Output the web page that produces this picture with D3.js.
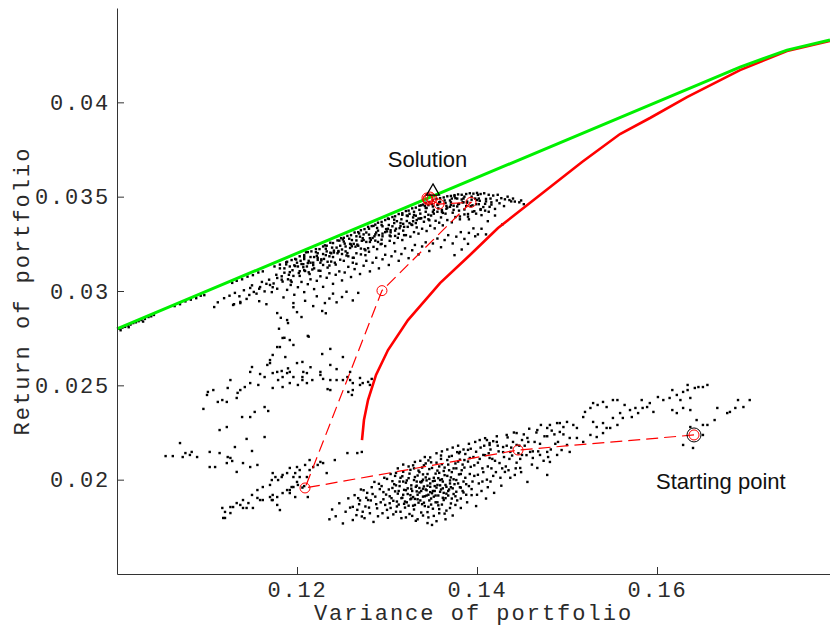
<!DOCTYPE html>
<html>
<head>
<meta charset="utf-8">
<script src="https://cdn.jsdelivr.net/npm/d3@7"></script>
<style>
  body { margin: 0; background: #fff; }
  svg { display: block; background: #fff; }
  .axis text { font-family: "Liberation Mono", "Courier New", monospace; font-size: 22px; letter-spacing: 1.8px; fill: #2a2a2a; }
  .axis path, .axis line { stroke: #333; }
  .title { font-family: "Liberation Mono", "Courier New", monospace; font-size: 22px; letter-spacing: 2px; fill: #2a2a2a; }
  .note { font-family: "Liberation Sans", Arial, Helvetica, sans-serif; font-size: 22px; fill: #111; }
</style>
</head>
<body>
<svg width="830" height="628"></svg>
<script>
// tick values
var varianceTicks = [0.12, 0.14, 0.16]
var returnTicks = [0.02, 0.025, 0.03, 0.035, 0.04]

// sampled portfolios lying right on the frontier (left end)
var frontierDots = [
  [0.1002,0.02800],[0.1004,0.02792],[0.1006,0.02806],[0.1009,0.02810],[0.1012,0.02818],[0.1013,0.02808],
  [0.1015,0.02822],[0.1018,0.02830],[0.1021,0.02834],[0.1024,0.02840],[0.1027,0.02846],[0.1029,0.02838],
  [0.1031,0.02852],[0.1035,0.02862],[0.1038,0.02866],[0.1041,0.02873],[0.1064,0.02920],[0.1070,0.02930],
  [0.1076,0.02945],[0.1082,0.02954],[0.1088,0.02962],[0.1093,0.02975],[0.1097,0.02978],[0.1128,0.03043],
  [0.1133,0.03054],[0.1139,0.03062],[0.1145,0.03076],[0.1151,0.03084],[0.1157,0.03098],[0.1162,0.03104],
  [0.1175,0.03130],[0.1181,0.03140],[0.1188,0.03152],[0.1194,0.03164],[0.1198,0.03170]
]

// upper band of samples
var upperCloud = [
  [0.1203,0.03184],[0.1208,0.03190],[0.1212,0.03206],[0.1216,0.03210],[0.1221,0.03222],[0.1225,0.03222],
  [0.1229,0.03236],[0.1233,0.03240],[0.1237,0.03256],[0.1240,0.03254],[0.1245,0.03268],[0.1249,0.03280],
  [0.1252,0.03282],[0.1256,0.03292],[0.1260,0.03296],[0.1264,0.03310],[0.1268,0.03312],[0.1271,0.03322],
  [0.1275,0.03328],[0.1279,0.03340],[0.1283,0.03344],[0.1287,0.03352],[0.1290,0.03362],[0.1294,0.03366],
  [0.1298,0.03376],[0.1302,0.03382],[0.1306,0.03392],[0.1309,0.03396],[0.1313,0.03408],[0.1317,0.03412],
  [0.1321,0.03424],[0.1324,0.03426],[0.1328,0.03438],[0.1332,0.03442],[0.1336,0.03452],[0.1340,0.03458],
  [0.1343,0.03468],[0.1347,0.03472],[0.1351,0.03480],[0.1355,0.03488],[0.1359,0.03492],[0.1363,0.03496],
  [0.1367,0.03502],[0.1371,0.03504],[0.1375,0.03508],[0.1379,0.03512],[0.1383,0.03510],[0.1388,0.03514],
  [0.1392,0.03518],[0.1396,0.03516],[0.1400,0.03520],[0.1404,0.03514],[0.1408,0.03518],[0.1413,0.03510],
  [0.1418,0.03506],
  [0.1158,0.03012],[0.1166,0.03038],[0.1174,0.03040],[0.1183,0.03060],[0.1190,0.03062],[0.1196,0.03080],
  [0.1203,0.03080],[0.1209,0.03106],[0.1214,0.03090],[0.1219,0.03120],[0.1224,0.03108],[0.1229,0.03138],
  [0.1234,0.03124],[0.1238,0.03156],[0.1243,0.03140],[0.1248,0.03166],[0.1252,0.03160],[0.1257,0.03184],
  [0.1262,0.03176],[0.1266,0.03200],[0.1271,0.03194],[0.1276,0.03216],[0.1280,0.03208],[0.1285,0.03234],
  [0.1289,0.03222],[0.1294,0.03250],[0.1298,0.03238],[0.1303,0.03266],[0.1308,0.03254],[0.1312,0.03282],
  [0.1317,0.03270],[0.1321,0.03296],[0.1326,0.03288],[0.1330,0.03312],[0.1335,0.03304],[0.1339,0.03330],
  [0.1344,0.03318],[0.1348,0.03346],[0.1353,0.03332],[0.1358,0.03362],[0.1362,0.03348],[0.1367,0.03376],
  [0.1372,0.03364],[0.1376,0.03392],[0.1381,0.03380],[0.1386,0.03406],[0.1390,0.03394],[0.1395,0.03420],
  [0.1399,0.03410],[0.1404,0.03434],[0.1409,0.03426],[0.1414,0.03446],
  [0.1201,0.03130],[0.1207,0.03142],[0.1213,0.03160],[0.1218,0.03150],[0.1223,0.03176],[0.1227,0.03168],
  [0.1232,0.03190],[0.1236,0.03184],[0.1241,0.03204],[0.1246,0.03212],[0.1250,0.03220],[0.1254,0.03236],
  [0.1259,0.03228],[0.1263,0.03250],[0.1267,0.03246],[0.1272,0.03266],[0.1277,0.03260],[0.1281,0.03280],
  [0.1286,0.03290],[0.1291,0.03296],[0.1295,0.03304],[0.1300,0.03316],[0.1304,0.03322],[0.1310,0.03330],
  [0.1315,0.03344],[0.1319,0.03340],[0.1325,0.03360],[0.1329,0.03370],[0.1333,0.03376],[0.1338,0.03386],
  [0.1342,0.03392],[0.1346,0.03404],[0.1352,0.03410],[0.1356,0.03420],[0.1361,0.03430],[0.1366,0.03436],
  [0.1370,0.03446],[0.1374,0.03452],[0.1380,0.03462],[0.1384,0.03470],[0.1389,0.03474],[0.1394,0.03484],
  [0.1398,0.03490],[0.1403,0.03478],[0.1410,0.03488],[0.1416,0.03470],[0.1422,0.03480],[0.1427,0.03492],
  [0.1431,0.03486],[0.1436,0.03482],[0.1442,0.03474],[0.1447,0.03470],
  [0.1181,0.03120],[0.1184,0.03050],[0.1186,0.03097],[0.1189,0.03155],[0.1191,0.03086],[0.1194,0.03048],
  [0.1197,0.03136],[0.1199,0.03167],[0.1202,0.03095],[0.1205,0.03143],[0.1207,0.03126],[0.1210,0.03205],
  [0.1213,0.03099],[0.1215,0.03180],[0.1218,0.03137],[0.1221,0.03206],[0.1223,0.03165],[0.1226,0.03107],
  [0.1229,0.03196],[0.1231,0.03242],[0.1234,0.03155],[0.1237,0.03203],[0.1239,0.03230],[0.1242,0.03150],
  [0.1245,0.03200],[0.1247,0.03267],[0.1250,0.03196],[0.1253,0.03251],[0.1255,0.03188],[0.1258,0.03277],
  [0.1261,0.03237],[0.1263,0.03176],[0.1266,0.03268],[0.1269,0.03305],[0.1271,0.03225],[0.1274,0.03270],
  [0.1277,0.03310],[0.1279,0.03227],[0.1282,0.03271],[0.1285,0.03345],[0.1287,0.03267],[0.1290,0.03320],
  [0.1293,0.03248],[0.1295,0.03343],[0.1298,0.03312],[0.1301,0.03384],[0.1303,0.03294],[0.1306,0.03343],
  [0.1309,0.03292],[0.1311,0.03370],[0.1314,0.03333],[0.1317,0.03404],[0.1319,0.03296],[0.1322,0.03371],
  [0.1325,0.03409],[0.1327,0.03353],[0.1330,0.03403],[0.1333,0.03337],[0.1335,0.03384],[0.1338,0.03454],
  [0.1341,0.03367],[0.1343,0.03420],[0.1346,0.03455],[0.1349,0.03400],[0.1351,0.03448],[0.1354,0.03372],
  [0.1357,0.03438],[0.1359,0.03473],[0.1362,0.03414],[0.1365,0.03467],[0.1367,0.03442],[0.1370,0.03480],
  [0.1373,0.03415],[0.1375,0.03502],[0.1378,0.03448],[0.1381,0.03395],[0.1383,0.03485],[0.1386,0.03432],
  [0.1389,0.03468],[0.1391,0.03380],[0.1394,0.03500],[0.1397,0.03423],[0.1399,0.03460],[0.1402,0.03490],
  [0.1405,0.03402],[0.1407,0.03445],[0.1410,0.03475],[0.1413,0.03420],[0.1416,0.03458],[0.1420,0.03435],
  [0.1425,0.03465],[0.1430,0.03450],[0.1438,0.03475],
  [0.1183,0.03078],[0.1188,0.03141],[0.1193,0.03056],[0.1198,0.03132],[0.1203,0.03105],[0.1208,0.03169],
  [0.1212,0.03148],[0.1217,0.03114],[0.1222,0.03186],[0.1227,0.03162],[0.1232,0.03224],[0.1236,0.03135],
  [0.1241,0.03214],[0.1246,0.03208],[0.1251,0.03273],[0.1256,0.03201],[0.1260,0.03247],[0.1265,0.03235],
  [0.1270,0.03288],[0.1275,0.03222],[0.1280,0.03299],[0.1284,0.03281],[0.1289,0.03334],[0.1294,0.03272],
  [0.1299,0.03328],[0.1304,0.03311],[0.1308,0.03378],[0.1313,0.03303],[0.1318,0.03356],[0.1323,0.03397],
  [0.1328,0.03350],[0.1332,0.03399],[0.1337,0.03384],[0.1342,0.03451],[0.1347,0.03375],[0.1352,0.03430],
  [0.1356,0.03456],[0.1361,0.03420],[0.1366,0.03451],[0.1371,0.03457],[0.1376,0.03492],[0.1380,0.03426],
  [0.1385,0.03470],[0.1390,0.03408],[0.1395,0.03454],[0.1400,0.03482],[0.1404,0.03430],[0.1409,0.03462],
  [0.1186,0.03120],[0.1195,0.03110],[0.1204,0.03160],[0.1211,0.03130],[0.1219,0.03180],[0.1226,0.03150],
  [0.1233,0.03210],[0.1240,0.03180],[0.1248,0.03240],[0.1254,0.03210],[0.1261,0.03270],[0.1268,0.03240],
  [0.1274,0.03300],[0.1281,0.03260],[0.1288,0.03310],[0.1295,0.03290],[0.1302,0.03350],[0.1309,0.03320],
  [0.1316,0.03380],[0.1323,0.03340],[0.1330,0.03420],[0.1337,0.03410],[0.1344,0.03440],[0.1351,0.03420],
  [0.1358,0.03470],[0.1365,0.03410],[0.1372,0.03490],[0.1379,0.03460],[0.1386,0.03500],[0.1393,0.03450],
  [0.1401,0.03510],[0.1244,0.03230],[0.1252,0.03262],[0.1259,0.03250],[0.1266,0.03290],[0.1273,0.03280],
  [0.1280,0.03330],[0.1287,0.03300],[0.1294,0.03350],[0.1301,0.03330],[0.1308,0.03360],[0.1315,0.03360],
  [0.1322,0.03400],[0.1329,0.03390],[0.1336,0.03430],[0.1343,0.03440],[0.1350,0.03460],[0.1357,0.03460],
  [0.1364,0.03480],[0.1371,0.03470],[0.1378,0.03490],[0.1385,0.03490],[0.1230,0.03170],[0.1238,0.03200],
  [0.1223,0.03200],[0.1215,0.03150],[0.1208,0.03180],[0.1200,0.03150],[0.1192,0.03130],[0.1262,0.03150],
  [0.1276,0.03190],[0.1290,0.03260],[0.1304,0.03290],[0.1318,0.03320],[0.1332,0.03360],[0.1346,0.03380],
  [0.1360,0.03390],[0.1374,0.03430],[0.1388,0.03450],[0.1402,0.03460],[0.1415,0.03490],[0.1423,0.03510],
  [0.1434,0.03500],[0.1440,0.03490],[0.1449,0.03480],[0.1452,0.03460],
  [0.1172,0.02994],[0.1178,0.03012],[0.1185,0.02966],[0.1189,0.03006],[0.1193,0.03032],[0.1197,0.02980],
  [0.1201,0.03020],[0.1205,0.03048],[0.1208,0.02994],[0.1212,0.03036],[0.1215,0.03062],[0.1219,0.03010],
  [0.1222,0.03054],[0.1226,0.03078],[0.1229,0.03022],[0.1233,0.03070],[0.1236,0.03094],[0.1240,0.03038],
  [0.1243,0.03086],[0.1247,0.03104],[0.1250,0.03056],[0.1253,0.03098],[0.1257,0.03128],[0.1260,0.03074],
  [0.1264,0.03116],[0.1266,0.03144],[0.1270,0.03090],[0.1274,0.03134],[0.1277,0.03160],[0.1281,0.03104],
  [0.1284,0.03150],[0.1288,0.03176],[0.1291,0.03120],[0.1295,0.03168],[0.1298,0.03192],[0.1302,0.03138],
  [0.1305,0.03184],[0.1309,0.03210],[0.1313,0.03160],[0.1316,0.03196],[0.1320,0.03226],[0.1324,0.03174],
  [0.1328,0.03216],[0.1331,0.03244],[0.1335,0.03194],[0.1339,0.03236],[0.1343,0.03258],[0.1347,0.03212],
  [0.1351,0.03252],[0.1356,0.03278],[0.1360,0.03232],[0.1364,0.03270],[0.1368,0.03296],[0.1373,0.03252],
  [0.1377,0.03288],[0.1382,0.03312],[0.1386,0.03276],[0.1391,0.03308],[0.1396,0.03332],[0.1401,0.03300],
  [0.1405,0.03330],[0.1412,0.03370],[0.1420,0.03400],[0.1428,0.03352],[0.1398,0.03290],[0.1390,0.03250],
  [0.1383,0.03220],[0.1375,0.03190],[0.1410,0.03300],
  [0.1148,0.03016],[0.1170,0.03032],[0.1178,0.03069],[0.1192,0.03100],[0.1208,0.03110],[0.1130,0.02930],
  [0.1137,0.02942],[0.1147,0.02979],[0.1152,0.02995],[0.1159,0.03021],
  [0.1125,0.02975],[0.1131,0.02990],[0.1136,0.02972],[0.1141,0.03004],[0.1144,0.02958],[0.1150,0.03030],
  [0.1155,0.02986],[0.1161,0.03048],[0.1164,0.02998],[0.1169,0.03060],[0.1173,0.03020],[0.1177,0.03086],
  [0.1112,0.02940],[0.1119,0.02962],[0.1108,0.02915],
  [0.1180,0.02800],[0.1182,0.02858],[0.1186,0.02752],[0.1190,0.02830],[0.1196,0.02914],[0.1200,0.02888],
  [0.1205,0.02862],[0.1209,0.02948],[0.1213,0.02758],[0.1218,0.02920],[0.1222,0.02972],[0.1228,0.02894],
  [0.1231,0.02936],[0.1232,0.02882],[0.1236,0.02960],[0.1240,0.02986],[0.1244,0.02940],[0.1250,0.02968],
  [0.1255,0.02996],[0.1262,0.02950],[0.1268,0.02990],[0.1166,0.02930],[0.1158,0.02946],
  [0.1178,0.02883],[0.1189,0.02846],[0.1196,0.02936],[0.1192,0.02740],[0.1181,0.02703],[0.1129,0.02926],
  [0.1137,0.02936]
]

// scattered samples in the middle
var middleCloud = [
  [0.1212,0.02762],[0.1184,0.02751],[0.1178,0.02703],[0.1196,0.02714],[0.1173,0.02661],[0.1187,0.02650],
  [0.1228,0.02666],[0.1237,0.02693],[0.1251,0.02650],[0.1148,0.02571],[0.1150,0.02597],[0.1167,0.02608],
  [0.1170,0.02634],[0.1164,0.02544],[0.1173,0.02565],[0.1192,0.02571],[0.1178,0.02571],[0.1183,0.02576],
  [0.1189,0.02565],[0.1184,0.02544],[0.1179,0.02528],[0.1196,0.02544],[0.1200,0.02618],[0.1206,0.02624],
  [0.1207,0.02571],[0.1211,0.02565],[0.1206,0.02528],[0.1211,0.02512],[0.1201,0.02502],[0.1192,0.02512],
  [0.1184,0.02491],[0.1173,0.02486],[0.1217,0.02528],[0.1226,0.02555],[0.1237,0.02528],[0.1237,0.02608],
  [0.1244,0.02528],[0.1251,0.02528],[0.1259,0.02528],[0.1259,0.02571],[0.1262,0.02512],[0.1270,0.02502],
  [0.1273,0.02512],[0.1281,0.02502],[0.1257,0.02465],[0.1261,0.02449],[0.1234,0.02480],[0.1157,0.02502],
  [0.1148,0.02512],[0.1142,0.02491],[0.1137,0.02475],[0.1134,0.02460],[0.1133,0.02433],[0.1126,0.02528],
  [0.1123,0.02486],[0.1117,0.02422],[0.1122,0.02412],[0.1112,0.02412],[0.1101,0.02465],[0.1107,0.02475],
  [0.1100,0.02449],[0.1096,0.02375],[0.1139,0.02332],[0.1148,0.02332],[0.1153,0.02359],[0.1164,0.02385],
  [0.1168,0.02364],[0.1114,0.02263],[0.1122,0.02279],[0.1144,0.02216],[0.1164,0.02226],[0.1131,0.02173],
  [0.1150,0.02152],[0.1070,0.02194],[0.1054,0.02125],[0.1062,0.02125],[0.1073,0.02120],[0.1081,0.02131],
  [0.1089,0.02120],[0.1076,0.02141],[0.1083,0.02147],[0.1103,0.02147],[0.1114,0.02141],[0.1126,0.02115],
  [0.1128,0.02099],[0.1103,0.02067],[0.1109,0.02067],[0.1140,0.02088],[0.1148,0.02067],[0.1156,0.02078],
  [0.1123,0.02120],[0.1133,0.02041],[0.1122,0.02088],[0.1270,0.02539],[0.1279,0.02518],[0.1283,0.02534],
  [0.1256,0.02544],[0.1262,0.02475],[0.1229,0.02534],[0.1226,0.02571],[0.1237,0.02475],[0.1206,0.02544],
  [0.1170,0.02618],[0.1159,0.02560],[0.1190,0.02590],[0.1215,0.02596],[0.1244,0.02586]
]

// lower-left arm
var lowerArm = [
  [0.1117,0.01850],[0.1120,0.01797],[0.1126,0.01823],[0.1129,0.01855],[0.1137,0.01866],[0.1140,0.01850],
  [0.1146,0.01876],[0.1151,0.01850],[0.1156,0.01903],[0.1162,0.01892],[0.1170,0.01908],[0.1173,0.01892],
  [0.1178,0.01908],[0.1181,0.01839],[0.1184,0.01929],[0.1192,0.01945],[0.1196,0.01961],[0.1179,0.01998],
  [0.1184,0.02025],[0.1198,0.02035],[0.1118,0.01797],[0.1144,0.01850],[0.1159,0.01892],[0.1172,0.01892],
  [0.1173,0.01919],[0.1178,0.01866],[0.1189,0.01945],[0.1194,0.01961],[0.1200,0.01988],[0.1203,0.02014],
  [0.1196,0.02014],[0.1189,0.02035],[0.1183,0.02014],[0.1176,0.02014],[0.1172,0.01998],[0.1192,0.01929],
  [0.1198,0.01908],[0.1201,0.01972],[0.1212,0.01908],[0.1211,0.02014],[0.1214,0.02051],[0.1218,0.02067],
  [0.1223,0.02078],[0.1226,0.02094],[0.1229,0.02088],[0.1233,0.02035],[0.1242,0.02104],[0.1203,0.02051],
  [0.1209,0.02078],[0.1214,0.02104],[0.1200,0.02067],[0.1192,0.02062],[0.1173,0.02035],[0.1170,0.01972],
  [0.1162,0.01961],[0.1156,0.01945],[0.1150,0.01919],[0.1140,0.01892],[0.1133,0.01876],[0.1126,0.01855],
  [0.1120,0.01829],[0.1256,0.02141],[0.1267,0.02141],[0.1272,0.02147],[0.1206,0.01958],[0.1208,0.01966]
]

// dense lower cloud
var lowerCloud = [
  [0.1236,0.01790],[0.1239,0.01842],[0.1243,0.01806],[0.1247,0.01875],[0.1251,0.01768],[0.1254,0.01830],
  [0.1257,0.01901],[0.1259,0.01852],[0.1262,0.01786],[0.1264,0.01918],[0.1267,0.01840],[0.1269,0.01870],
  [0.1272,0.01805],[0.1274,0.01944],[0.1276,0.01858],[0.1279,0.01892],[0.1281,0.01822],[0.1283,0.01960],
  [0.1285,0.01776],[0.1287,0.01910],[0.1289,0.01848],[0.1291,0.01978],[0.1293,0.01880],[0.1295,0.01822],
  [0.1296,0.01934],[0.1298,0.01866],[0.1300,0.02004],[0.1301,0.01798],[0.1303,0.01912],[0.1304,0.01850],
  [0.1306,0.01956],[0.1307,0.01888],[0.1309,0.02020],[0.1310,0.01830],[0.1312,0.01926],[0.1313,0.01868],
  [0.1314,0.01990],[0.1316,0.01796],[0.1317,0.01904],[0.1318,0.02042],[0.1320,0.01852],[0.1321,0.01944],
  [0.1322,0.01880],[0.1324,0.02008],[0.1325,0.01818],[0.1326,0.01918],[0.1327,0.01970],[0.1329,0.01862],
  [0.1330,0.02060],[0.1331,0.01898],[0.1332,0.01782],[0.1333,0.01938],[0.1334,0.02022],[0.1335,0.01878],
  [0.1336,0.01956],[0.1338,0.01826],[0.1339,0.01992],[0.1340,0.01910],[0.1341,0.02076],[0.1342,0.01860],
  [0.1343,0.01948],[0.1345,0.02030],[0.1346,0.01800],[0.1347,0.01890],[0.1348,0.01980],[0.1349,0.02092],
  [0.1350,0.01928],[0.1351,0.01846],[0.1352,0.02010],[0.1353,0.01966],[0.1354,0.01880],[0.1356,0.02048],
  [0.1357,0.01916],[0.1358,0.01822],[0.1359,0.01998],[0.1360,0.02110],[0.1361,0.01868],[0.1362,0.01954],
  [0.1364,0.02064],[0.1365,0.01902],[0.1366,0.01836],[0.1367,0.02020],[0.1368,0.01940],[0.1369,0.02122],
  [0.1370,0.01980],[0.1371,0.01874],[0.1372,0.02040],[0.1373,0.01810],[0.1374,0.01924],[0.1376,0.02086],
  [0.1377,0.01998],[0.1378,0.01890],[0.1380,0.02140],[0.1381,0.01960],[0.1382,0.01850],[0.1383,0.02050],
  [0.1385,0.01932],[0.1386,0.02104],[0.1387,0.02010],[0.1389,0.01880],[0.1390,0.02158],[0.1391,0.01966],
  [0.1393,0.02068],[0.1394,0.01918],[0.1396,0.02120],[0.1397,0.02020],[0.1399,0.01860],[0.1401,0.02090],
  [0.1402,0.01980],[0.1404,0.02170],[0.1405,0.01940],[0.1407,0.02040],[0.1409,0.02130],[0.1410,0.01900],
  [0.1412,0.02070],[0.1414,0.02194],[0.1415,0.01990],[0.1417,0.02110],[0.1419,0.01930],[0.1421,0.02040],
  [0.1423,0.02180],[0.1425,0.02088],[0.1427,0.01968],[0.1429,0.02146],[0.1432,0.02070],[0.1434,0.02224],
  [0.1437,0.02010],[0.1439,0.02128],[0.1441,0.02250],[0.1444,0.02090],[0.1447,0.02180],[0.1449,0.02040],
  [0.1452,0.02240],[0.1455,0.02130],[0.1458,0.02270],[0.1461,0.02080],[0.1464,0.02200],[0.1468,0.02150],
  [0.1471,0.02290],[0.1475,0.02230],[0.1479,0.02120],[0.1483,0.02260],[0.1487,0.02190],[0.1492,0.02300],
  [0.1302,0.01948],[0.1305,0.01902],[0.1308,0.01976],[0.1311,0.01884],[0.1313,0.01940],[0.1315,0.02010],
  [0.1318,0.01920],[0.1319,0.01872],[0.1321,0.01984],[0.1323,0.01954],[0.1325,0.02032],[0.1326,0.01896],
  [0.1328,0.01940],[0.1330,0.01998],[0.1331,0.01866],[0.1333,0.01968],[0.1334,0.01920],[0.1336,0.02040],
  [0.1337,0.01890],[0.1338,0.01986],[0.1340,0.01952],[0.1341,0.01878],[0.1343,0.02012],[0.1344,0.01916],
  [0.1345,0.01968],[0.1347,0.02056],[0.1348,0.01934],[0.1349,0.01868],[0.1351,0.01992],[0.1352,0.01910],
  [0.1354,0.02032],[0.1355,0.01958],[0.1356,0.01880],[0.1358,0.02070],[0.1359,0.01936],[0.1361,0.02002],
  [0.1362,0.01904],[0.1363,0.02046],[0.1365,0.01972],[0.1366,0.01926],[0.1368,0.02080],[0.1369,0.01948],
  [0.1371,0.02012],[0.1372,0.01900],[0.1374,0.02060],[0.1375,0.01976],[0.1377,0.01936],[0.1379,0.02096],
  [0.1380,0.02028],[0.1382,0.01958],[0.1384,0.02080],[0.1385,0.01990],[0.1344,0.01996],[0.1339,0.02064],
  [0.1357,0.02008],[0.1329,0.02076],[0.1318,0.01990],[0.1310,0.02036],[0.1346,0.02102],[0.1360,0.02128],
  [0.1299,0.01921],[0.1303,0.01875],[0.1306,0.01992],[0.1309,0.01938],[0.1311,0.01858],[0.1314,0.01966],
  [0.1316,0.01902],[0.1317,0.02018],[0.1319,0.01946],[0.1320,0.01884],[0.1322,0.01996],[0.1323,0.01924],
  [0.1324,0.01862],[0.1326,0.02052],[0.1327,0.01952],[0.1329,0.01908],[0.1330,0.01842],[0.1331,0.02014],
  [0.1332,0.01962],[0.1334,0.01896],[0.1335,0.02048],[0.1336,0.01932],[0.1337,0.01988],[0.1339,0.01870],
  [0.1340,0.02028],[0.1341,0.01964],[0.1342,0.01912],[0.1343,0.02086],[0.1344,0.01944],[0.1346,0.01856],
  [0.1347,0.02004],[0.1348,0.01962],[0.1349,0.01900],[0.1350,0.02062],[0.1351,0.01940],[0.1353,0.01994],
  [0.1354,0.01916],[0.1355,0.02090],[0.1356,0.01972],[0.1357,0.01864],[0.1358,0.02036],[0.1360,0.01948],
  [0.1361,0.02082],[0.1362,0.01990],[0.1363,0.01892],[0.1364,0.02024],[0.1366,0.01962],[0.1367,0.02104],
  [0.1368,0.01916],[0.1369,0.02050],[0.1370,0.01996],[0.1372,0.02126],[0.1373,0.01954],[0.1374,0.02002],
  [0.1376,0.01912],[0.1377,0.02060],[0.1378,0.02146],[0.1379,0.01980],[0.1381,0.02106],[0.1382,0.02030],
  [0.1384,0.01940],[0.1386,0.02064],[0.1387,0.02136],[0.1388,0.01976],[0.1390,0.02096],[0.1392,0.02030],
  [0.1393,0.02164],[0.1395,0.01990],[0.1397,0.02076],[0.1399,0.02148],[0.1401,0.02026],[0.1403,0.02110],
  [0.1406,0.02060],[0.1408,0.02180],[0.1411,0.02000],[0.1413,0.02140],[0.1416,0.02060],[0.1418,0.02204],
  [0.1420,0.02100],[0.1424,0.02150],[0.1428,0.02060],[0.1433,0.02180],[0.1436,0.02110],[0.1440,0.02200],
  [0.1446,0.02140],[0.1450,0.02210],[0.1296,0.01896],[0.1292,0.01950],[0.1288,0.01870],[0.1284,0.01924],
  [0.1280,0.01852],[0.1277,0.01904],[0.1273,0.01830],[0.1270,0.01890],[0.1266,0.01812],[0.1262,0.01856],
  [0.1268,0.01902],[0.1271,0.01948],[0.1275,0.01796],[0.1278,0.01930],[0.1282,0.01890],[0.1286,0.01988],
  [0.1290,0.01806],[0.1294,0.01966],[0.1297,0.02010],[0.1300,0.01840],[0.1304,0.02030],[0.1307,0.01816],
  [0.1310,0.01970],[0.1312,0.02060],[0.1315,0.01830],[0.1318,0.02080],[0.1321,0.01800],[0.1324,0.02070],
  [0.1328,0.01808],[0.1331,0.02094],[0.1334,0.01790],[0.1337,0.02100],[0.1340,0.01810],[0.1342,0.02120],
  [0.1345,0.01828],[0.1348,0.02118],[0.1352,0.01808],[0.1355,0.02140],[0.1358,0.01844],[0.1361,0.02150],
  [0.1364,0.01820],[0.1367,0.02160],[0.1370,0.01850],[0.1373,0.02170],[0.1376,0.01866],[0.1379,0.02180],
  [0.1382,0.01900],[0.1385,0.02160],[0.1388,0.01920],[0.1391,0.02190],[0.1394,0.01950],[0.1398,0.02200],
  [0.1400,0.01920],[0.1403,0.02210],[0.1406,0.01990],[0.1409,0.02220],[0.1412,0.01960],[0.1415,0.02160],
  [0.1418,0.02020],[0.1422,0.02230],[0.1426,0.02010],[0.1430,0.02120],[0.1435,0.02050],[0.1438,0.02170],
  [0.1443,0.02060],[0.1448,0.02110],[0.1453,0.02180],[0.1457,0.02200],[0.1462,0.02150],[0.1466,0.02250],
  [0.1470,0.02190],[0.1474,0.02100],[0.1478,0.02230],[0.1482,0.02160],[0.1486,0.02240],[0.1490,0.02200],
  [0.1496,0.02240],[0.1345,0.01770],[0.1355,0.01780],[0.1365,0.01790],[0.1350,0.01760],[0.1340,0.02000],
  [0.1333,0.01990],[0.1327,0.01900],[0.1363,0.01930],[0.1371,0.01960],[0.1353,0.01940],[0.1338,0.01940],
  [0.1346,0.01920],[0.1359,0.01970]
]

// samples stretching towards the starting point
var rightCloud = [
  [0.1433,0.02237],[0.1444,0.02247],[0.1456,0.02221],[0.1467,0.02263],[0.1478,0.02274],[0.1481,0.02290],
  [0.1489,0.02300],[0.1496,0.02279],[0.1500,0.02306],[0.1507,0.02290],[0.1511,0.02274],[0.1492,0.02253],
  [0.1503,0.02221],[0.1518,0.02332],[0.1529,0.02306],[0.1533,0.02279],[0.1540,0.02300],[0.1544,0.02274],
  [0.1551,0.02327],[0.1556,0.02290],[0.1559,0.02353],[0.1562,0.02327],[0.1570,0.02369],[0.1572,0.02332],
  [0.1576,0.02380],[0.1579,0.02353],[0.1583,0.02422],[0.1584,0.02380],[0.1589,0.02385],[0.1592,0.02406],
  [0.1596,0.02359],[0.1601,0.02438],[0.1607,0.02422],[0.1614,0.02433],[0.1617,0.02475],[0.1622,0.02449],
  [0.1626,0.02422],[0.1629,0.02465],[0.1634,0.02475],[0.1637,0.02433],[0.1642,0.02486],[0.1646,0.02491],
  [0.1651,0.02491],[0.1617,0.02369],[0.1622,0.02353],[0.1629,0.02380],[0.1637,0.02369],[0.1644,0.02316],
  [0.1651,0.02290],[0.1656,0.02290],[0.1637,0.02279],[0.1651,0.02237],[0.1629,0.02184],[0.1640,0.02168],
  [0.1664,0.02316],[0.1667,0.02380],[0.1678,0.02353],[0.1681,0.02359],[0.1687,0.02380],[0.1690,0.02422],
  [0.1696,0.02385],[0.1703,0.02422],[0.1520,0.02359],[0.1526,0.02380],[0.1529,0.02406],[0.1534,0.02396],
  [0.1540,0.02412],[0.1544,0.02385],[0.1551,0.02422],[0.1556,0.02422],[0.1564,0.02396],[0.1411,0.02210],
  [0.1414,0.02184],[0.1422,0.02200],[0.1429,0.02173],[0.1437,0.02147],[0.1444,0.02184],[0.1450,0.02131],
  [0.1459,0.02147],[0.1462,0.02115],[0.1470,0.02131],[0.1478,0.02147],[0.1481,0.02094],[0.1489,0.02131],
  [0.1494,0.02157],[0.1500,0.02184],[0.1503,0.02147],[0.1511,0.02221],[0.1518,0.02200],[0.1526,0.02237],
  [0.1533,0.02226],[0.1540,0.02247],[0.1548,0.02274],[0.1478,0.02025],[0.1456,0.01988],[0.1442,0.02025],
  [0.1431,0.02041],[0.1448,0.02062],[0.1467,0.02062],[0.1414,0.02115],[0.1407,0.02131],[0.1392,0.02115],
  [0.1381,0.02147],[0.1656,0.02502],[0.1634,0.02502]
]

// red efficient frontier and green frontier with the tangent line
var redCurve = [
  [0.12722,0.02210],[0.12744,0.02316],[0.12789,0.02422],[0.12878,0.02555],[0.13011,0.02687],[0.13233,0.02846],
  [0.13589,0.03042],[0.13922,0.03191],[0.14233,0.03334],[0.14700,0.03509],[0.15167,0.03684],[0.15589,0.03832],
  [0.15922,0.03917],[0.16333,0.04028],[0.16922,0.04171],[0.17444,0.04272],[0.17922,0.04325]
]
var greenLine = [[0.1000,0.02799],[0.16922,0.04187],[0.17444,0.04277],[0.17922,0.04330]]

// optimisation steps, from starting point to solution
var searchPath = [
  [0.16411,0.02237],[0.14456,0.02157],[0.12089,0.01956],[0.12944,0.03002],[0.13933,0.03470],
  [0.13578,0.03461],[0.13456,0.03488]
]
var solutionSteps = [[0.13444,0.03493],[0.13478,0.03498],[0.13500,0.03488],[0.13456,0.03482]]
var startPoint = [0.16411, 0.02237]
var solutionPoint = [0.13511, 0.03528]
var notes = [
  {text: "Solution", at: [0.1345, 0.03657], anchor: "middle"},
  {text: "Starting point", at: [0.15989, 0.01951], anchor: "start"}
]

var svg = d3.select('svg')

var x = d3.scaleLinear().domain([0.1, 0.17922]).range([117, 830])
var y = d3.scaleLinear().domain([0.015, 0.045]).range([574, 8])

var fmt = function (d) { return String(+d.toFixed(3)) }

// scatter of sampled portfolios
var allDots = [].concat(frontierDots, upperCloud, middleCloud, lowerArm, lowerCloud, rightCloud)
svg.append('g')
  .selectAll('rect')
  .data(allDots)
  .enter().append('rect')
    .attr('x', function (d) { return x(d[0]) - 1.2 })
    .attr('y', function (d) { return y(d[1]) - 1.2 })
    .attr('width', 2.4)
    .attr('height', 2.4)
    .attr('fill', '#000')

var line = d3.line()
  .x(function (d) { return x(d[0]) })
  .y(function (d) { return y(d[1]) })

svg.append('path')
  .datum(redCurve)
  .attr('d', line)
  .attr('fill', 'none')
  .attr('stroke', '#ff0000')
  .attr('stroke-width', 2.6)

svg.append('path')
  .datum(greenLine)
  .attr('d', line)
  .attr('fill', 'none')
  .attr('stroke', '#00f000')
  .attr('stroke-width', 3)

svg.append('path')
  .datum(searchPath)
  .attr('d', line)
  .attr('fill', 'none')
  .attr('stroke', '#ff0000')
  .attr('stroke-width', 1.2)
  .attr('stroke-dasharray', '12,6')

// black ring round the starting point
svg.append('circle')
  .attr('cx', x(startPoint[0]))
  .attr('cy', y(startPoint[1]))
  .attr('r', 7)
  .attr('fill', 'none')
  .attr('stroke', '#000')
  .attr('stroke-width', 1)

svg.append('g')
  .selectAll('circle')
  .data(searchPath.concat(solutionSteps))
  .enter().append('circle')
    .attr('cx', function (d) { return x(d[0]) })
    .attr('cy', function (d) { return y(d[1]) })
    .attr('r', 5)
    .attr('fill', 'none')
    .attr('stroke', '#ff0000')
    .attr('stroke-width', 1)

svg.append('path')
  .attr('d', d3.symbol().type(d3.symbolTriangle).size(72)())
  .attr('transform', 'translate(' + x(solutionPoint[0]) + ',' + y(solutionPoint[1]) + ')')
  .attr('fill', 'none')
  .attr('stroke', '#000')
  .attr('stroke-width', 1.3)

svg.append('g')
  .selectAll('text')
  .data(notes)
  .enter().append('text')
    .attr('class', 'note')
    .attr('x', function (d) { return x(d.at[0]) })
    .attr('y', function (d) { return y(d.at[1]) })
    .attr('text-anchor', function (d) { return d.anchor })
    .text(function (d) { return d.text })

// axes, ticks pointing inwards
svg.append('g')
  .attr('class', 'axis')
  .attr('transform', 'translate(0,574)')
  .call(d3.axisBottom(x).tickValues(varianceTicks).tickFormat(fmt)
    .tickSizeInner(-7).tickSizeOuter(0).tickPadding(7))

svg.append('g')
  .attr('class', 'axis')
  .attr('transform', 'translate(117,0)')
  .call(d3.axisLeft(y).tickValues(returnTicks).tickFormat(fmt)
    .tickSizeInner(-7).tickSizeOuter(0).tickPadding(7))

svg.append('text')
  .attr('class', 'title')
  .attr('x', (117 + 830) / 2)
  .attr('y', 620)
  .attr('text-anchor', 'middle')
  .text('Variance of portfolio')

svg.append('text')
  .attr('class', 'title')
  .attr('transform', 'translate(29,291) rotate(-90)')
  .attr('text-anchor', 'middle')
  .text('Return of portfolio')
</script>
</body>
</html>
